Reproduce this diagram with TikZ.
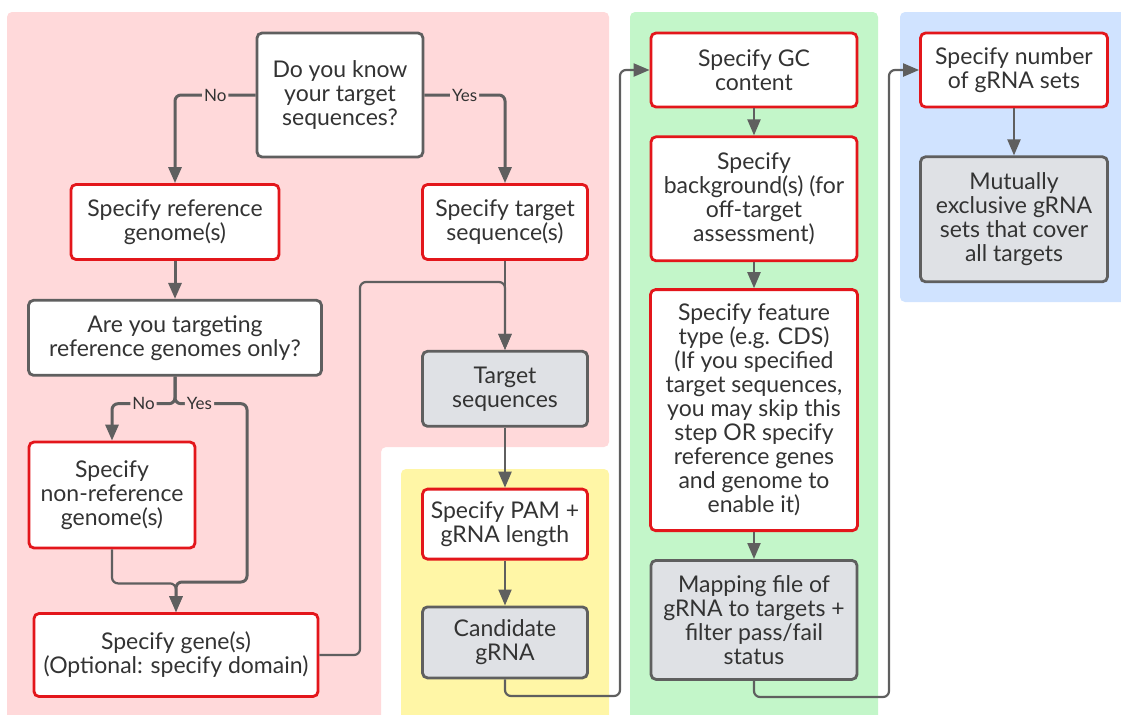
\documentclass[tikz,border=0pt]{standalone}
\usepackage{fontspec}
\setmainfont{Lato}
\usetikzlibrary{arrows.meta,positioning}

\definecolor{zonered}{HTML}{FFD9DA}
\definecolor{zoneyellow}{HTML}{FFF6A6}
\definecolor{zonegreen}{HTML}{C3F6C9}
\definecolor{zoneblue}{HTML}{D0E3FF}
\definecolor{edgegray}{HTML}{5F5F5F}
\definecolor{stepred}{HTML}{E3161B}
\definecolor{resultgray}{HTML}{DFE1E5}
\definecolor{inkgray}{HTML}{333333}

\begin{document}
\begin{tikzpicture}[
    x=0.5pt, y=-0.5pt,
    every node/.style={font=\fontsize{11.5}{12}\selectfont, text=inkgray, align=center},
    question/.style={rectangle, rounded corners=2.5pt, draw=edgegray, line width=1.4pt, fill=white, inner sep=1pt},
    input/.style={rectangle, rounded corners=2.5pt, draw=stepred, line width=1.4pt, fill=white, inner sep=1pt},
    result/.style={rectangle, rounded corners=2.5pt, draw=edgegray, line width=1.4pt, fill=resultgray, inner sep=1pt},
    arrow/.style={-{Triangle[length=8pt,width=6.5pt]}, draw=edgegray, line width=1.5pt, rounded corners=3pt},
    link/.style={arrow, line width=1.1pt},
    answer/.style={font=\fontsize{8.5}{9}\selectfont, fill=zonered, inner sep=1pt}
]
\useasboundingbox (0,0) rectangle (1121,714);

% Zones
\fill[zonered, rounded corners=2.5pt] (7,12) -- (609,12) -- (609,447) -- (381,447) -- (381,724) -- (7,724) -- cycle;
\fill[zoneyellow, rounded corners=2.5pt] (401,469) rectangle (609,724);
\fill[zonegreen, rounded corners=2.5pt] (630,12) rectangle (878,724);
\fill[zoneblue, rounded corners=2.5pt] (900,12) rectangle (1131,302);

% Left part
\node[question, minimum width=83pt, minimum height=62pt] (know) at (340,95) {Do you know\\your target\\sequences?};
\node[input, minimum width=104pt, minimum height=37.5pt] (ref) at (175,222) {Specify reference\\genome(s)};
\node[question, minimum width=146.5pt, minimum height=37.5pt, below=19pt of ref] (only) {Are you targeting\\reference genomes only?};
\node[input, minimum width=83pt, minimum height=53pt] (nonref) at (112,495) {Specify\\non-reference\\genome(s)};
\node[input, minimum width=142pt, minimum height=41.5pt] (gene) at (176,655) {Specify gene(s)\\(Optional: specify domain)};

% Target column
\node[input, minimum width=82.5pt, minimum height=37.5pt] (tgt) at (505,222) {Specify target\\sequence(s)};
\node[result, minimum width=82.5pt, minimum height=37.5pt, below=44.5pt of tgt] (tseq) {Target\\sequences};
\node[input, minimum width=82.5pt, minimum height=35pt, below=30pt of tseq] (pam) {Specify PAM +\\gRNA length};
\node[result, minimum width=82.5pt, minimum height=35.5pt, below=22.5pt of pam] (cand) {Candidate\\gRNA};

% Filters
\node[input, minimum width=103pt, minimum height=37pt] (gc) at (754,70) {Specify GC\\content};
\node[input, minimum width=103pt, minimum height=62pt, below=13.5pt of gc] (bg) {Specify\\background(s) (for\\off-target\\assessment)};
\node[input, minimum width=103.5pt, minimum height=120.5pt, below=13pt of bg] (feat) {Specify feature\\type (e.g. CDS)\\(If you specified\\target sequences,\\you may skip this\\step OR specify\\reference genes\\and genome to\\enable it)};
\node[result, minimum width=103pt, minimum height=59.5pt, below=13.5pt of feat] (map) {Mapping file of\\gRNA to targets +\\filter pass/fail\\status};

% Sets
\node[input, minimum width=93.5pt, minimum height=37pt] (num) at (1014,70) {Specify number\\of gRNA sets};
\node[result, minimum width=93.5pt, minimum height=62.5pt, below=23.5pt of num] (mut) {Mutually\\exclusive gRNA\\sets that cover\\all targets};

% Arrows
\draw[arrow] (know.west) -| (ref.north) node[answer, pos=0.25] {No};
\draw[arrow] (know.east) -| (tgt.north) node[answer, pos=0.25] {Yes};
\draw[arrow] (ref) -- (only);
\draw[arrow] (only.south) -- ++(0,27) -| (nonref.north) node[answer, pos=0.25] {No};
\draw[arrow] (only.south) -- ++(0,27) -| (247,582) node[answer, pos=0.17] {Yes} -| (gene.north);
\draw[link] (nonref.south) -- ++(0,34) -| (gene.north);
\draw[link] (tgt) -- (tseq);
\draw[link] (gene.east) -| (360,282) -| (tseq.north);
\draw[link] (tseq) -- (pam);
\draw[link] (pam) -- (cand);
\draw[link] (cand.south) |- (620,696) |- (gc.west);
\draw[link] (gc) -- (bg);
\draw[link] (bg) -- (feat);
\draw[link] (feat) -- (map);
\draw[link] (map.south) |- (889,697) |- (num.west);
\draw[link] (num) -- (mut);

\end{tikzpicture}
\end{document}
